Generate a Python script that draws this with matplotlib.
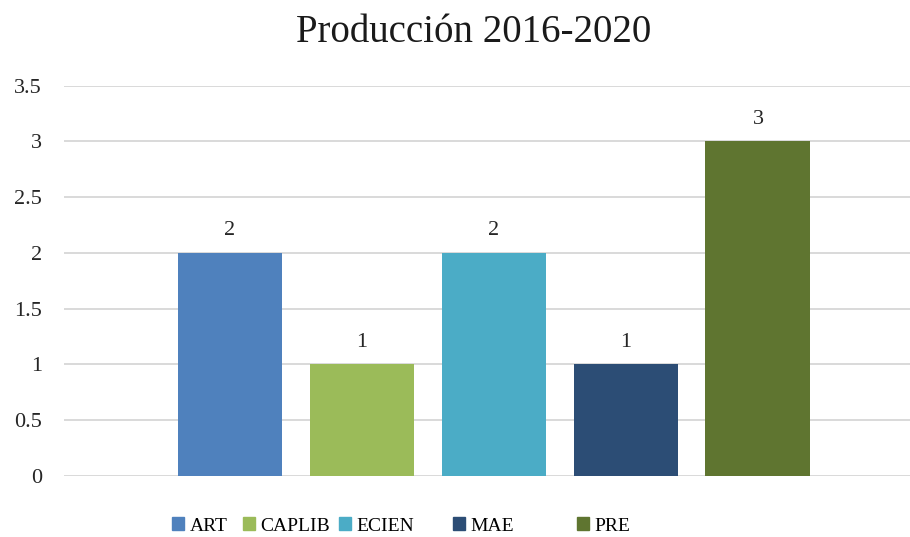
import matplotlib.pyplot as plt
from matplotlib.patches import Patch

categories = ['ART', 'CAPLIB', 'ECIEN', 'MAE', 'PRE']
values = [2, 1, 2, 1, 3]
colors = ['#4F81BD', '#9BBB59', '#4BACC6', '#2C4D75', '#5F7530']
yticks = [0, 0.5, 1, 1.5, 2, 2.5, 3, 3.5]
ytick_labels = ['0', '0.5', '1', '1.5', '2', '2.5', '3', '3.5']

plt.rcParams['font.family'] = ['Liberation Serif', 'DejaVu Serif']

fig = plt.figure(figsize=(9.1, 5.37), dpi=100)
ax = fig.add_axes([0.0703, 0.1136, 0.9297, 0.7268])

x = list(range(len(categories)))
bars = ax.bar(x, values, width=0.795, color=colors, zorder=3)
ax.bar_label(bars, labels=[str(v) for v in values], padding=9, fontsize=16, color='#262626')

ax.set_xlim(-1.258, 5.152)
ax.set_ylim(0, 3.5)
ax.set_yticks(yticks)
ax.set_yticklabels(ytick_labels, fontsize=16, color='#262626')
ax.set_xticks([])
ax.tick_params(axis='y', length=0, pad=16)
ax.grid(axis='y', color='#D9D9D9', linewidth=1.4, zorder=0)
for s in ax.spines.values():
    s.set_visible(False)

fig.text(474 / 910, 1 - 33 / 537, 'Producción 2016-2020', fontsize=28,
         ha='center', va='center', color='#1a1a1a')

# leyenda: cada entrada en su sitio, como en Excel
legend_x = [172, 243, 339, 453, 577]
for name, c, lx in zip(categories, colors, legend_x):
    fig.legend(handles=[Patch(color=c)], labels=[name], loc='center left',
               bbox_to_anchor=(lx / 910, 1 - 526 / 537), frameon=False,
               fontsize=14, handlelength=0.6, handleheight=0.6,
               handletextpad=0.3, borderpad=0, borderaxespad=0)

plt.savefig('out.png', dpi=100)
